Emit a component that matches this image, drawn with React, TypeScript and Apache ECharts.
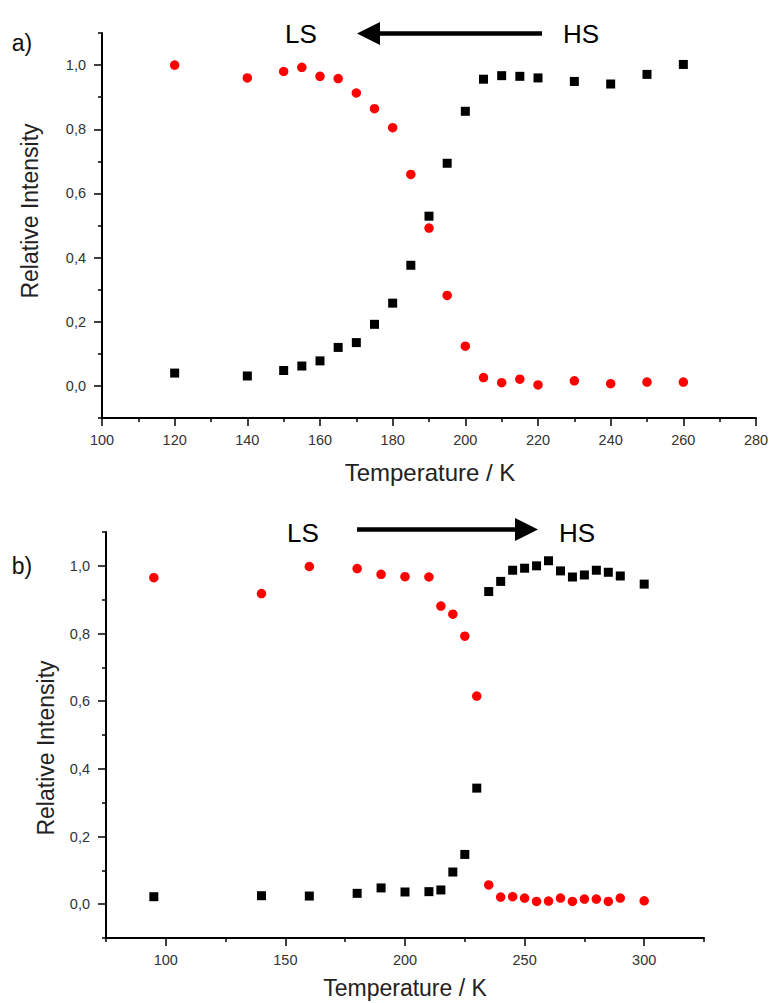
import React, { useEffect, useRef } from "react";
import * as echarts from "echarts";

// ---- Panel a) ----
const tempsA = [120, 140, 150, 155, 160, 165, 170, 175, 180, 185, 190, 195, 200, 205, 210, 215, 220, 230, 240, 250, 260];
const lsA = [1.0, 0.96, 0.98, 0.993, 0.965, 0.958, 0.913, 0.864, 0.805, 0.659, 0.492, 0.282, 0.124, 0.026, 0.01, 0.021, 0.003, 0.016, 0.007, 0.012, 0.012];
const hsA = [0.04, 0.031, 0.048, 0.062, 0.078, 0.12, 0.135, 0.192, 0.258, 0.376, 0.529, 0.694, 0.856, 0.956, 0.967, 0.965, 0.96, 0.949, 0.941, 0.971, 1.002];

// ---- Panel b) ----
const tempsB = [95, 140, 160, 180, 190, 200, 210, 215, 220, 225, 230, 235, 240, 245, 250, 255, 260, 265, 270, 275, 280, 285, 290, 300];
const lsB = [0.965, 0.918, 0.998, 0.992, 0.975, 0.968, 0.967, 0.881, 0.857, 0.792, 0.615, 0.057, 0.021, 0.022, 0.018, 0.008, 0.009, 0.018, 0.008, 0.015, 0.015, 0.008, 0.018, 0.01];
const hsB = [0.022, 0.025, 0.024, 0.032, 0.048, 0.036, 0.037, 0.042, 0.095, 0.147, 0.343, 0.924, 0.954, 0.987, 0.993, 1.0, 1.015, 0.985, 0.967, 0.973, 0.987, 0.981, 0.97, 0.946];

// ---- Ticks ----
const xMajorA = [100, 120, 140, 160, 180, 200, 220, 240, 260, 280];
const xMinorA = [110, 130, 150, 170, 190, 210, 230, 250, 270];
const xMajorB = [100, 150, 200, 250, 300];
const xMinorB = [75, 125, 175, 225, 275, 325];
const yMajor = [0, 0.2, 0.4, 0.6, 0.8, 1.0];
const yMinor = [-0.1, 0.1, 0.3, 0.5, 0.7, 0.9, 1.1];

const FONT = "'Liberation Sans', Arial, Helvetica, sans-serif";

const pairs = (xs: number[], ys: number[]) => xs.map((x, i) => [x, ys[i]]);
const fmtY = (v: number) => v.toFixed(1).replace(".", ",");

function majorAxis(grid: number, min: number, max: number, values: number[], isY: boolean) {
  return {
    type: "value",
    gridIndex: grid,
    min,
    max,
    position: isY ? "left" : "bottom",
    axisLine: { show: true, onZero: false, lineStyle: { color: "#000", width: 2 } },
    axisTick: { show: true, customValues: values, length: 8, lineStyle: { color: "#000", width: 1.5 } },
    axisLabel: {
      show: true,
      customValues: values,
      formatter: isY ? (v: number) => fmtY(v) : (v: number) => String(Math.round(v)),
      color: "#333",
      fontSize: 14.5,
      fontFamily: FONT,
      margin: isY ? 16 : 14,
    },
    splitLine: { show: false },
  };
}

function minorAxis(grid: number, min: number, max: number, values: number[], isY: boolean) {
  return {
    type: "value",
    gridIndex: grid,
    min,
    max,
    position: isY ? "left" : "bottom",
    axisLine: { show: false, onZero: false },
    axisTick: { show: true, customValues: values, length: 4, lineStyle: { color: "#000", width: 1.5 } },
    axisLabel: { show: false },
    splitLine: { show: false },
  };
}

function arrow(x1: number, x2: number, y: number, headLeft: boolean) {
  const headLen = 23;
  const half = 11.5;
  const shaftStart = headLeft ? x1 + headLen - 2 : x1;
  const shaftEnd = headLeft ? x2 : x2 - headLen + 2;
  const tip = headLeft ? x1 : x2;
  const base = headLeft ? x1 + headLen : x2 - headLen;
  return [
    {
      type: "line",
      shape: { x1: shaftStart, y1: y, x2: shaftEnd, y2: y },
      style: { stroke: "#000", lineWidth: 4.5 },
    },
    {
      type: "polygon",
      shape: { points: [[tip, y], [base, y - half], [base, y + half]] },
      style: { fill: "#000" },
    },
  ];
}

function label(text: string, x: number, y: number, size: number, rotate = 0, color = "#111") {
  return {
    type: "text",
    x,
    y,
    rotation: rotate,
    style: {
      text,
      fill: color,
      font: `${size}px ${FONT}`,
      align: "center",
      verticalAlign: "middle",
    },
  };
}

export default function App() {
  const ref = useRef<HTMLDivElement>(null);
  useEffect(() => {
    if (!ref.current) return;
    const chart = echarts.init(ref.current, undefined, { renderer: "svg" });
    chart.setOption({
      animation: false,
      backgroundColor: "#fff",
      grid: [
        { left: 102, top: 33, width: 654, height: 385 },
        { left: 106, top: 532, width: 598, height: 406 },
      ],
      xAxis: [
        majorAxis(0, 100, 280, xMajorA, false),
        minorAxis(0, 100, 280, xMinorA, false),
        majorAxis(1, 75, 325, xMajorB, false),
        minorAxis(1, 75, 325, xMinorB, false),
      ],
      yAxis: [
        majorAxis(0, -0.1, 1.1, yMajor, true),
        minorAxis(0, -0.1, 1.1, yMinor, true),
        majorAxis(1, -0.1, 1.1, yMajor, true),
        minorAxis(1, -0.1, 1.1, yMinor, true),
      ],
      series: [
        {
          name: "HS a",
          type: "scatter",
          xAxisIndex: 0,
          yAxisIndex: 0,
          symbol: "rect",
          symbolSize: 9,
          itemStyle: { color: "#000", opacity: 1 },
          data: pairs(tempsA, hsA),
        },
        {
          name: "LS a",
          type: "scatter",
          xAxisIndex: 0,
          yAxisIndex: 0,
          symbol: "circle",
          symbolSize: 9.5,
          itemStyle: { color: "#ff0000", opacity: 1 },
          data: pairs(tempsA, lsA),
        },
        {
          name: "HS b",
          type: "scatter",
          xAxisIndex: 2,
          yAxisIndex: 2,
          symbol: "rect",
          symbolSize: 9,
          itemStyle: { color: "#000", opacity: 1 },
          data: pairs(tempsB, hsB),
        },
        {
          name: "LS b",
          type: "scatter",
          xAxisIndex: 2,
          yAxisIndex: 2,
          symbol: "circle",
          symbolSize: 9.5,
          itemStyle: { color: "#ff0000", opacity: 1 },
          data: pairs(tempsB, lsB),
        },
      ],
      graphic: [
        label("a)", 22, 43, 23),
        label("b)", 22, 566, 23),
        label("LS", 301, 34, 26, 0, "#000"),
        label("HS", 581, 34, 26, 0, "#000"),
        ...arrow(357, 542, 33.5, true),
        label("LS", 303, 533, 26, 0, "#000"),
        label("HS", 577, 533, 26, 0, "#000"),
        ...arrow(357, 538, 529.5, false),
        label("Temperature / K", 430, 472, 24, 0, "#222"),
        label("Temperature / K", 405, 988, 23, 0, "#222"),
        label("Relative Intensity", 30, 211, 23, Math.PI / 2, "#222"),
        label("Relative Intensity", 46, 748, 23, Math.PI / 2, "#222"),
      ],
    });
    return () => chart.dispose();
  }, []);
  return (
    <div
      ref={ref}
      style={{ position: "absolute", left: 0, top: 0, width: 772, height: 1003, background: "#fff" }}
    />
  );
}
